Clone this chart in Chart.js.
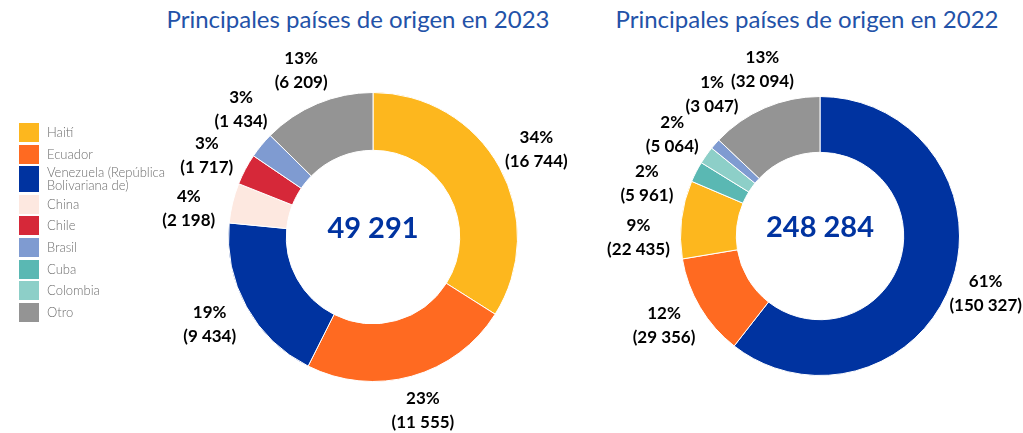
<!DOCTYPE html>
<html>
<head>
<meta charset="utf-8">
<script src="https://cdn.jsdelivr.net/npm/chart.js@4.4.1/dist/chart.umd.min.js"></script>
<style>
  body { margin: 0; width: 1023px; height: 433px; overflow: hidden; background: #fff; font-family: Lato, "Open Sans", sans-serif; position: relative; }
  .title { position: absolute; top: 4px; font-size: 24px; font-weight: 400; color: #2352a8; white-space: nowrap; transform: translateX(-50%); }
  .wrap { position: absolute; }
  #legend { position: absolute; left: 19px; top: 123px; z-index: 2; }
  .item { display: flex; align-items: center; margin-bottom: 2.6px; }
  .box { width: 20px; height: 19px; margin-right: 8px; flex: none; }
  .txt { font-size: 13px; line-height: 13px; font-weight: 300; color: #6e6e6e; max-width: 130px; }
</style>
</head>
<body>
<div class="title" style="left:358px">Principales países de origen en 2023</div>
<div class="title" style="left:807px">Principales países de origen en 2022</div>
<div id="legend"></div>
<div class="wrap" style="left:153px; top:41px; width:440px; height:392px"><canvas id="chart2023"></canvas></div>
<div class="wrap" style="left:600px; top:41px; width:423px; height:390px"><canvas id="chart2022"></canvas></div>
<script>
const countries = ["Haití", "Ecuador", "Venezuela (República Bolivariana de)", "China", "Chile", "Brasil", "Cuba", "Colombia", "Otro"];
const countryColors = ["#FDB71E", "#FF6A21", "#0033A0", "#FDE8E0", "#D62839", "#7F9BD1", "#5AB8B3", "#8DCFC8", "#949494"];

const labels2023 = ["Haití", "Ecuador", "Venezuela (República Bolivariana de)", "China", "Chile", "Brasil", "Otro"];
const values2023 = [16744, 11555, 9434, 2198, 1717, 1434, 6209];

const labels2022 = ["Venezuela (República Bolivariana de)", "Ecuador", "Haití", "Cuba", "Colombia", "Brasil", "Otro"];
const values2022 = [150327, 29356, 22435, 5961, 5064, 3047, 32094];

function fmt(n) {
    return String(n).replace(/\B(?=(\d{3})+(?!\d))/g, " ");
}

function colorOf(label) {
    return countryColors[countries.indexOf(label)];
}

// legend
document.getElementById("legend").innerHTML = countries.map((c, i) => `
    <div class="item"><div class="box" style="background:${countryColors[i]}${i === 2 ? ';height:26px' : ''}"></div><div class="txt">${c}</div></div>
`).join("");

const centerText = {
    id: "centerText",
    afterDraw(chart) {
        const ctx = chart.ctx;
        const arc = chart.getDatasetMeta(0).data[0];
        const total = chart.data.datasets[0].data.reduce((a, b) => a + b, 0);
        ctx.save();
        ctx.font = "bold 29px Lato, sans-serif";
        ctx.fillStyle = "#0033A0";
        ctx.textAlign = "center";
        ctx.textBaseline = "middle";
        ctx.fillText(fmt(total), arc.x, arc.y - 8);
        ctx.restore();
    }
};

const outsideLabels = {
    id: "outsideLabels",
    afterDatasetsDraw(chart) {
        const ctx = chart.ctx;
        const data = chart.data.datasets[0].data;
        const total = data.reduce((a, b) => a + b, 0);
        const arcs = chart.getDatasetMeta(0).data;
        // spread labels of small slices apart along the circle
        const items = arcs.map((a, i) => ({ i, ang: (a.startAngle + a.endAngle) / 2 }));
        items.sort((a, b) => a.ang - b.ang);
        const minSep = 18 * Math.PI / 180;
        for (let k = 0; k < 200; k++) {
            for (let j = 0; j < items.length - 1; j++) {
                const d = items[j + 1].ang - items[j].ang;
                if (d < minSep) {
                    const push = (minSep - d) / 2;
                    items[j].ang -= push;
                    items[j + 1].ang += push;
                }
            }
        }
        ctx.save();
        ctx.font = "bold 17px Lato, sans-serif";
        ctx.fillStyle = "#000";
        ctx.textAlign = "center";
        ctx.textBaseline = "middle";
        items.forEach(it => {
            const a = arcs[it.i];
            const r = a.outerRadius + 36;
            const top = Math.round(data[it.i] / total * 100) + "%";
            const bottom = "(" + fmt(data[it.i]) + ")";
            const w = ctx.measureText(bottom).width;
            let x = a.x + Math.cos(it.ang) * (r + 6);
            const y = a.y + Math.sin(it.ang) * r;
            x = Math.min(x, chart.width - 1 - w / 2);
            ctx.fillText(top, x, y - 12);
            ctx.fillText(bottom, x, y + 12);
        });
        ctx.restore();
    }
};

function makeChart(id, labels, values, pad) {
    return new Chart(document.getElementById(id).getContext("2d"), {
        type: "doughnut",
        data: {
            labels: labels,
            datasets: [{ data: values, backgroundColor: labels.map(colorOf), borderColor: "#fff", borderWidth: 1 }]
        },
        options: {
            responsive: true,
            maintainAspectRatio: false,
            animation: false,
            cutout: "60%",
            layout: { padding: pad },
            plugins: { legend: { display: false }, tooltip: { enabled: false } }
        },
        plugins: [outsideLabels, centerText]
    });
}

makeChart("chart2023", labels2023, values2023, { left: 75, right: 75, top: 51, bottom: 51 });
makeChart("chart2022", labels2022, values2022, { left: 80, right: 63, top: 55, bottom: 55 });
</script>
</body>
</html>
